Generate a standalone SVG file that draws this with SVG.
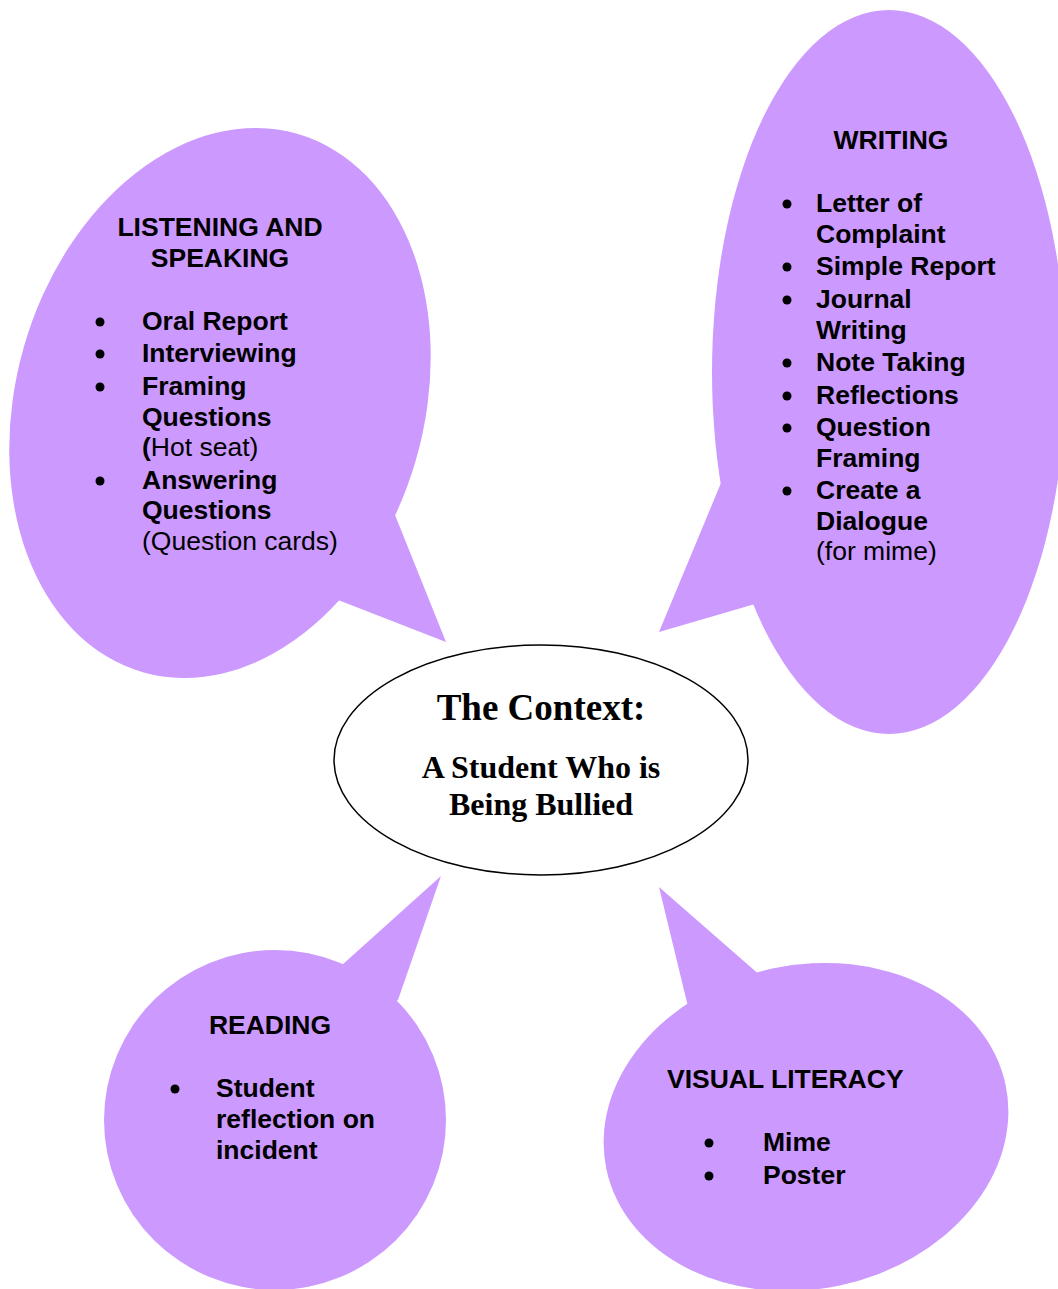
<svg xmlns="http://www.w3.org/2000/svg" width="1058" height="1289" viewBox="0 0 1058 1289">
<style>
.b{fill:#CC99FF;stroke:none}
.t{font-family:"Liberation Sans",Arial,sans-serif;font-size:26.5px;font-weight:bold;fill:#000}
.n{font-weight:normal}
.c{font-family:"Liberation Serif","Times New Roman",serif;font-weight:bold;fill:#000;text-anchor:middle}
</style>
<rect width="1058" height="1289" fill="#fff"/>
<g id="listening">
<ellipse class="b" cx="220" cy="403" rx="204" ry="280" transform="rotate(16 220 403)"/>
<polygon class="b" points="393,510 446,642 333,598 300,450"/>
<text class="t" x="220" y="236" text-anchor="middle">LISTENING AND</text>
<text class="t" x="220" y="267" text-anchor="middle">SPEAKING</text>
<g fill="#000"><circle cx="100" cy="322" r="4.5"/><circle cx="100" cy="354" r="4.5"/><circle cx="100" cy="387" r="4.5"/><circle cx="100" cy="481" r="4.5"/></g>
<text class="t" x="142" y="330">Oral Report</text>
<text class="t" x="142" y="362">Interviewing</text>
<text class="t" x="142" y="395">Framing</text>
<text class="t" x="142" y="426">Questions</text>
<text class="t" x="142" y="456">(<tspan class="n">Hot seat)</tspan></text>
<text class="t" x="142" y="489">Answering</text>
<text class="t" x="142" y="519">Questions</text>
<text class="t n" x="142" y="550">(Question cards)</text>
</g>
<g id="writing">
<ellipse class="b" cx="889" cy="372" rx="177" ry="362"/>
<polygon class="b" points="721,483 659,632 755,604 800,500"/>
<text class="t" x="891" y="149" text-anchor="middle">WRITING</text>
<g fill="#000"><circle cx="787" cy="204" r="4.5"/><circle cx="787" cy="267" r="4.5"/><circle cx="787" cy="300" r="4.5"/><circle cx="787" cy="363" r="4.5"/><circle cx="787" cy="396" r="4.5"/><circle cx="787" cy="428" r="4.5"/><circle cx="787" cy="491" r="4.5"/></g>
<text class="t" x="816" y="212">Letter of</text>
<text class="t" x="816" y="243">Complaint</text>
<text class="t" x="816" y="275">Simple Report</text>
<text class="t" x="816" y="308">Journal</text>
<text class="t" x="816" y="339">Writing</text>
<text class="t" x="816" y="371">Note Taking</text>
<text class="t" x="816" y="404">Reflections</text>
<text class="t" x="816" y="436">Question</text>
<text class="t" x="816" y="467">Framing</text>
<text class="t" x="816" y="499">Create a</text>
<text class="t" x="816" y="530">Dialogue</text>
<text class="t n" x="816" y="560">(for mime)</text>
</g>
<g id="reading">
<ellipse class="b" cx="275" cy="1120" rx="171" ry="170"/>
<polygon class="b" points="342,965 441,876 398,1000 300,1050"/>
<text class="t" x="270" y="1034" text-anchor="middle">READING</text>
<circle cx="175" cy="1089" r="4.5" fill="#000"/>
<text class="t" x="216" y="1097">Student</text>
<text class="t" x="216" y="1128">reflection on</text>
<text class="t" x="216" y="1159">incident</text>
</g>
<g id="visual">
<ellipse class="b" cx="806" cy="1127" rx="204" ry="162" transform="rotate(-12 806 1127)"/>
<polygon class="b" points="690,1015 659,887 762,977 750,1050"/>
<text class="t" x="667" y="1088">VISUAL LITERACY</text>
<g fill="#000"><circle cx="709" cy="1143" r="4.5"/><circle cx="709" cy="1176" r="4.5"/></g>
<text class="t" x="763" y="1151">Mime</text>
<text class="t" x="763" y="1184">Poster</text>
</g>
<g id="context">
<ellipse cx="541" cy="760" rx="207" ry="115" fill="#fff" stroke="#000" stroke-width="1.5"/>
<text class="c" x="541" y="720" font-size="37">The Context:</text>
<text class="c" x="541" y="778" font-size="32">A Student Who is</text>
<text class="c" x="541" y="815" font-size="32">Being Bullied</text>
</g>
<g id="connectors"/>
</svg>
